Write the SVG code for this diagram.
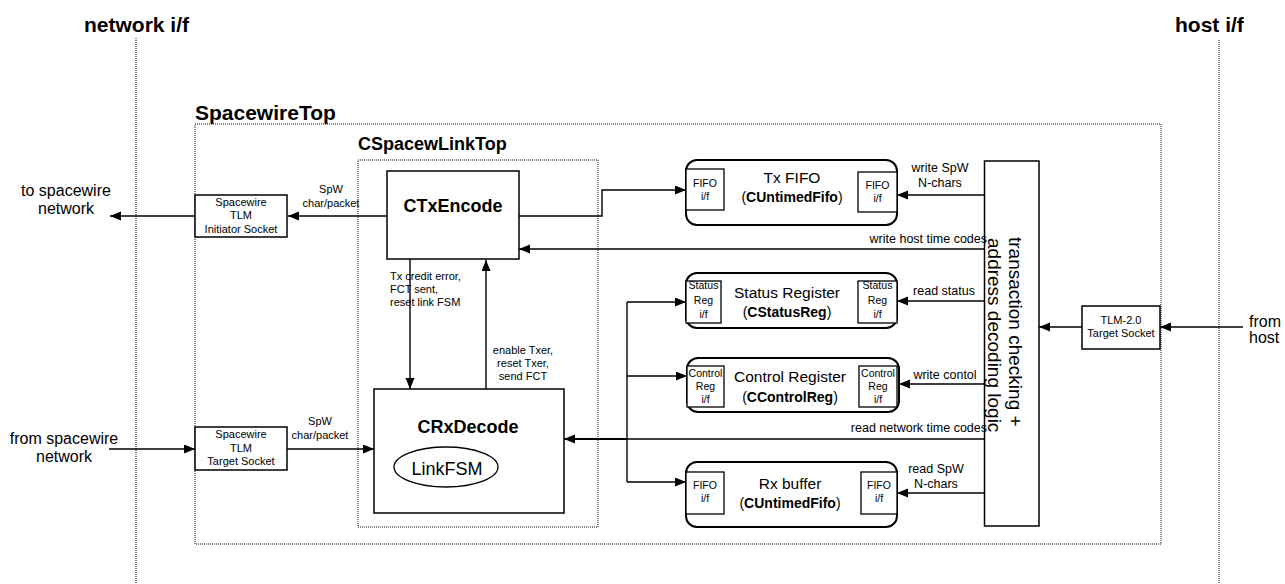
<svg xmlns="http://www.w3.org/2000/svg" width="1285" height="584" viewBox="0 0 1285 584">
  <defs>
    <marker id="arrow" markerUnits="userSpaceOnUse" markerWidth="12" markerHeight="10" refX="11" refY="4.5" orient="auto">
      <path d="M0,0 L11,4.5 L0,9 Z" fill="#000"/>
    </marker>
    <style>
      text { font-family: "Liberation Sans", Arial, sans-serif; fill: #000; }
      .hdr { font-size: 21px; font-weight: bold; }
      .sub { font-size: 18px; font-weight: bold; }
      .big { font-size: 18px; font-weight: bold; text-anchor: middle; }
      .ext { font-size: 16px; text-anchor: middle; }
      .lbl { font-size: 11px; text-anchor: middle; }
      .lbl-s { font-size: 11px; }
      .lbl12 { font-size: 12.5px; text-anchor: middle; }
      .lbl12e { font-size: 12.5px; text-anchor: end; }
      .t1 { font-size: 15.5px; text-anchor: middle; }
      .t2 { font-size: 14px; text-anchor: middle; }
      .if { font-size: 10.5px; text-anchor: middle; }
      .vert { font-size: 19px; }
      .dot { fill: none; stroke: #111; stroke-width: 1; stroke-dasharray: 1 1; }
      .box { fill: #fff; stroke: #000; stroke-width: 1.5; }
      .rbox { fill: #fff; stroke: #000; stroke-width: 2; }
      .ibox { fill: #fff; stroke: #000; stroke-width: 1.3; }
      .wire { fill: none; stroke: #000; stroke-width: 1.4; }
      .wire-b { fill: none; stroke: #000; stroke-width: 2.2; }
      .arr { marker-end: url(#arrow); }
    </style>
  </defs>

  <!-- interface boundaries -->
  <g id="boundaries">
    <line class="dot" x1="136" y1="38" x2="136" y2="584"/>
    <line class="dot" x1="1219" y1="40" x2="1219" y2="584"/>
    <text class="hdr" x="84" y="32">network i/f</text>
    <text class="hdr" x="1175" y="32">host i/f</text>
  </g>

  <!-- containers -->
  <g id="SpacewireTop">
    <rect class="dot" x="195" y="124" width="966" height="420"/>
    <text class="hdr" x="195" y="120">SpacewireTop</text>
  </g>
  <g id="CSpacewLinkTop">
    <rect class="dot" x="358" y="160" width="240" height="367"/>
    <text class="sub" x="358" y="150">CSpacewLinkTop</text>
  </g>

  <!-- connectors -->
  <g id="connectors">
    <path class="wire arr" d="M387,216 H288"/>
    <path class="wire arr" d="M195,216 H110"/>
    <path class="wire arr" d="M109,449 H195"/>
    <path class="wire arr" d="M287,449 H374"/>
    <path class="wire arr" d="M410,259 V389"/>
    <path class="wire arr" d="M486,389 V260"/>
    <path class="wire arr" d="M519,216 H602 V190 H686"/>
    <path class="wire arr" d="M984,195 H897"/>
    <path class="wire arr" d="M984,249 H519"/>
    <path class="wire arr" d="M984,301 H897"/>
    <path class="wire arr" d="M984,384 H899"/>
    <path class="wire" d="M984,439 H627"/>
    <path class="wire-b arr" d="M627,439 H564"/>
    <path class="wire" d="M627,302 V482"/>
    <path class="wire arr" d="M627,302 H686"/>
    <path class="wire arr" d="M627,376 H687"/>
    <path class="wire arr" d="M627,482 H686"/>
    <path class="wire arr" d="M984,493 H897"/>
    <path class="wire arr" d="M1082,327 H1039"/>
    <path class="wire arr" d="M1243,327 H1160"/>
  </g>

  <!-- connector labels -->
  <g id="labels">
    <text class="ext" x="66" y="196">to spacewire</text>
    <text class="ext" x="66" y="214">network</text>
    <text class="ext" x="64" y="444">from spacewire</text>
    <text class="ext" x="64" y="462">network</text>
    <text class="lbl" x="331" y="193">SpW</text>
    <text class="lbl" x="331" y="207">char/packet</text>
    <text class="lbl" x="320" y="425">SpW</text>
    <text class="lbl" x="320" y="439">char/packet</text>
    <text class="lbl-s" x="390" y="280">Tx credit error,</text>
    <text class="lbl-s" x="390" y="293">FCT sent,</text>
    <text class="lbl-s" x="390" y="306">reset link FSM</text>
    <text class="lbl" x="523" y="354">enable Txer,</text>
    <text class="lbl" x="523" y="367">reset Txer,</text>
    <text class="lbl" x="523" y="380">send FCT</text>
    <text class="lbl12" x="940" y="172">write SpW</text>
    <text class="lbl12" x="940" y="187">N-chars</text>
    <text class="lbl12e" x="987" y="243">write host time codes</text>
    <text class="lbl12" x="944" y="295">read status</text>
    <text class="lbl12" x="945" y="379">write contol</text>
    <text class="lbl12e" x="987" y="432">read network time codes</text>
    <text class="lbl12" x="936" y="473">read SpW</text>
    <text class="lbl12" x="936" y="488">N-chars</text>
    <text class="ext" x="1249" y="327" style="text-anchor:start">from</text>
    <text class="ext" x="1249" y="343" style="text-anchor:start">host</text>
  </g>

  <!-- sockets -->
  <g id="InitiatorSocket">
    <rect class="box" x="195" y="195" width="92" height="42"/>
    <text class="lbl" x="241" y="206">Spacewire</text>
    <text class="lbl" x="241" y="219">TLM</text>
    <text class="lbl" x="241" y="233">Initiator Socket</text>
  </g>
  <g id="TargetSocket">
    <rect class="box" x="195" y="427" width="92" height="43"/>
    <text class="lbl" x="241" y="438">Spacewire</text>
    <text class="lbl" x="241" y="452">TLM</text>
    <text class="lbl" x="241" y="465">Target Socket</text>
  </g>
  <g id="HostTargetSocket">
    <rect class="box" x="1082" y="306" width="78" height="43"/>
    <text class="lbl" x="1121" y="324">TLM-2.0</text>
    <text class="lbl" x="1121" y="337">Target Socket</text>
  </g>

  <!-- link blocks -->
  <g id="CTxEncode">
    <rect class="box" x="387" y="171" width="132" height="88"/>
    <text class="big" x="453" y="212">CTxEncode</text>
  </g>
  <g id="CRxDecode">
    <rect class="box" x="374" y="389" width="190" height="124"/>
    <text class="big" x="468" y="433">CRxDecode</text>
    <ellipse cx="446" cy="467" rx="52" ry="20" fill="#fff" stroke="#000" stroke-width="1.3"/>
    <text x="447" y="475" style="font-size:18px;text-anchor:middle">LinkFSM</text>
  </g>

  <!-- FIFOs and registers -->
  <g id="TxFIFO">
    <rect class="rbox" x="686" y="160" width="211" height="65" rx="11"/>
    <rect class="ibox" x="686" y="169" width="38" height="41"/>
    <rect class="ibox" x="858" y="172" width="39" height="40"/>
    <text class="if" x="705" y="187">FIFO</text>
    <text class="if" x="705" y="200">i/f</text>
    <text class="if" x="877.5" y="189">FIFO</text>
    <text class="if" x="877.5" y="202">i/f</text>
    <text class="t1" x="792" y="183">Tx FIFO</text>
    <text class="t2" x="792" y="202">(<tspan font-weight="bold">CUntimedFifo</tspan>)</text>
  </g>
  <g id="StatusRegister">
    <rect class="rbox" x="686" y="273" width="211" height="55" rx="11"/>
    <rect class="ibox" x="686" y="281" width="35" height="42"/>
    <rect class="ibox" x="858" y="281" width="39" height="42"/>
    <text class="if" x="703.5" y="289">Status</text>
    <text class="if" x="703.5" y="304">Reg</text>
    <text class="if" x="703.5" y="318">i/f</text>
    <text class="if" x="877.5" y="289">Status</text>
    <text class="if" x="877.5" y="304">Reg</text>
    <text class="if" x="877.5" y="318">i/f</text>
    <text class="t1" x="787" y="298">Status Register</text>
    <text class="t2" x="787" y="317">(<tspan font-weight="bold">CStatusReg</tspan>)</text>
  </g>
  <g id="ControlRegister">
    <rect class="rbox" x="687" y="358" width="212" height="54" rx="11"/>
    <rect class="ibox" x="687" y="366" width="37" height="41"/>
    <rect class="ibox" x="859" y="366" width="38" height="41"/>
    <text class="if" x="705.5" y="377">Control</text>
    <text class="if" x="705.5" y="390">Reg</text>
    <text class="if" x="705.5" y="403">i/f</text>
    <text class="if" x="878" y="377">Control</text>
    <text class="if" x="878" y="390">Reg</text>
    <text class="if" x="878" y="403">i/f</text>
    <text class="t1" x="790" y="382">Control Register</text>
    <text class="t2" x="790" y="402">(<tspan font-weight="bold">CControlReg</tspan>)</text>
  </g>
  <g id="RxBuffer">
    <rect class="rbox" x="686" y="462" width="211" height="65" rx="11"/>
    <rect class="ibox" x="686" y="472" width="38" height="42"/>
    <rect class="ibox" x="861" y="472" width="36" height="42"/>
    <text class="if" x="705" y="489">FIFO</text>
    <text class="if" x="705" y="502">i/f</text>
    <text class="if" x="879" y="489">FIFO</text>
    <text class="if" x="879" y="502">i/f</text>
    <text class="t1" x="790" y="489">Rx buffer</text>
    <text class="t2" x="790" y="508">(<tspan font-weight="bold">CUntimedFifo</tspan>)</text>
  </g>

  <!-- host-side transaction checking -->
  <g id="TransactionLogic">
    <rect x="984.5" y="161" width="54.5" height="365" fill="none" stroke="#000" stroke-width="1.5"/>
    <text class="vert" transform="translate(1009,237) rotate(90)">transaction checking +</text>
    <text class="vert" transform="translate(988,238) rotate(90)">address decoding logic</text>
  </g>
</svg>
